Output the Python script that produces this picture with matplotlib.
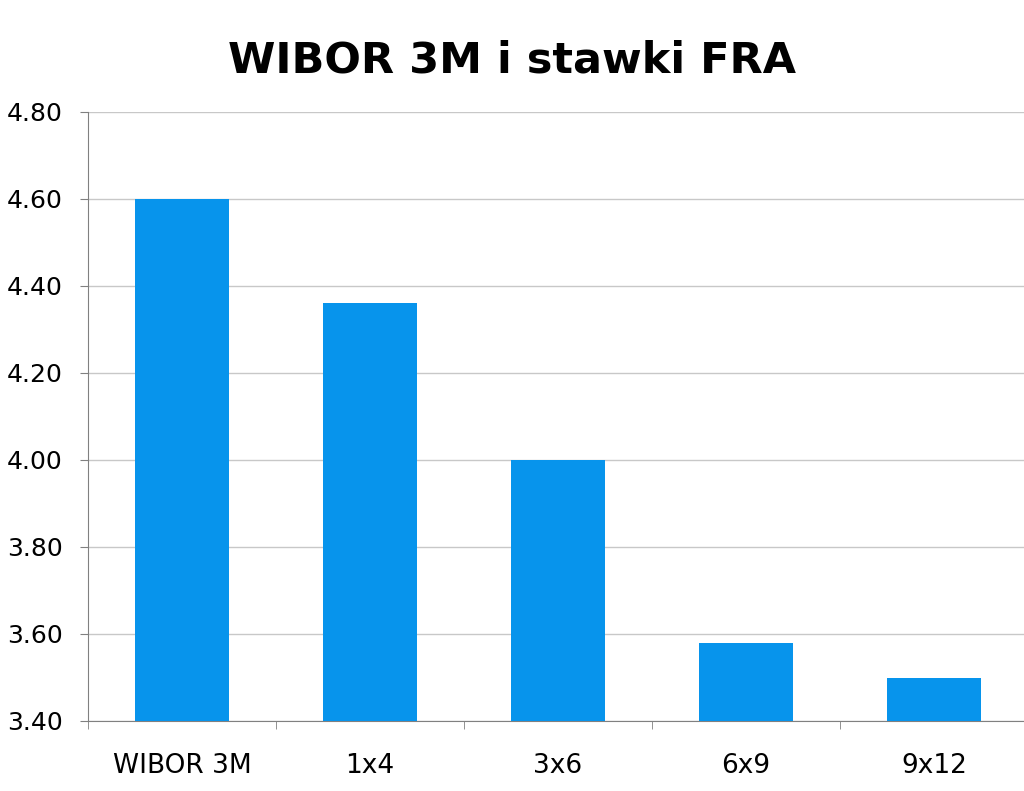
import numpy as np
import matplotlib.pyplot as plt

categories = ['WIBOR 3M', '1x4', '3x6', '6x9', '9x12']
values = [4.60, 4.36, 4.00, 3.58, 3.50]
y_ticks = [3.40, 3.60, 3.80, 4.00, 4.20, 4.40, 4.60, 4.80]

fig = plt.figure(figsize=(10.24, 7.91), dpi=100)
ax = fig.add_axes([88 / 1024, 70 / 791, 940 / 1024, 609 / 791])

x = np.arange(len(categories))
ax.bar(x, values, width=0.5, color='#0794EC', zorder=3)

ax.set_xlim(-0.5, len(categories) - 0.5)
ax.set_ylim(3.40, 4.80)
ax.set_yticks(y_ticks)
ax.set_yticklabels(['%.2f' % v for v in y_ticks])
ax.yaxis.grid(True, color='#C8C8C8', linewidth=1, zorder=0)

ax.set_xticks(x)
ax.set_xticklabels(categories)
ax.set_xticks(np.arange(len(categories) + 1) - 0.5, minor=True)
ax.tick_params(axis='x', which='major', length=0, pad=23, labelsize=19)
ax.tick_params(axis='x', which='minor', length=6, color='#808080')
ax.tick_params(axis='y', length=6, color='#808080', pad=12, labelsize=18)

for s in ['top', 'right']:
    ax.spines[s].set_visible(False)
for s in ['left', 'bottom']:
    ax.spines[s].set_color('#808080')

fig.suptitle('WIBOR 3M i stawki FRA', fontsize=31, fontweight='bold', x=0.5, y=0.950)

plt.savefig('out.png', dpi=100)
